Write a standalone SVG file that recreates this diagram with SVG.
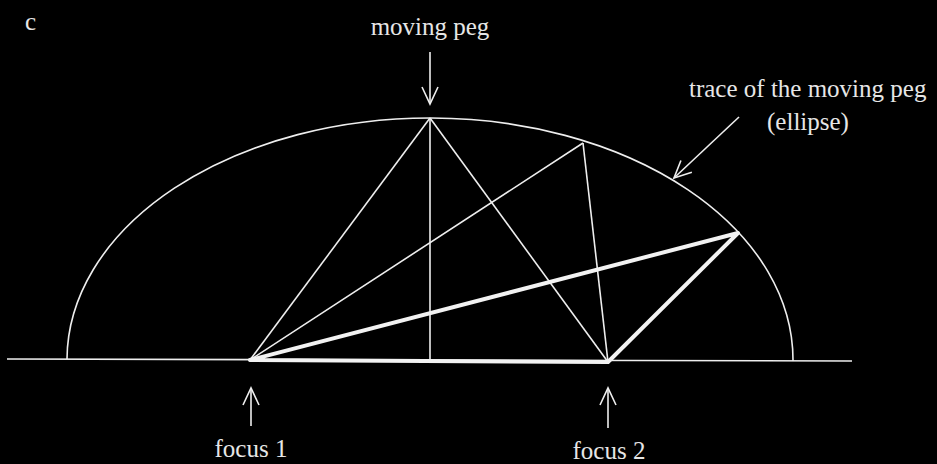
<svg xmlns="http://www.w3.org/2000/svg" width="937" height="464" viewBox="0 0 937 464">
<defs>
<style>
.thin{stroke:#eeeeee;stroke-width:1.6;fill:none}
.thick{stroke:#f2f2f2;stroke-width:4;fill:none;stroke-linecap:round;stroke-linejoin:round}
.lbl{font-family:"Liberation Serif","Times New Roman",serif;font-size:25px;fill:#e6e6e6}
</style>
<marker id="arr" markerUnits="userSpaceOnUse" viewBox="-20 -10 22 20" refX="0" refY="0" markerWidth="22" markerHeight="20" orient="auto">
<path d="M-17,-8 L0,0 L-17,8" fill="none" stroke="#eeeeee" stroke-width="1.6"/>
</marker>
</defs>
<rect width="937" height="464" fill="#000"/>
<g id="ellipse">
<path class="thin" d="M67,359 A363,242 0 0 1 793,361"/>
</g>
<g id="baseline">
<line class="thin" x1="7" y1="359" x2="852" y2="361"/>
</g>
<g id="connectors">
<line class="thin" x1="430" y1="118" x2="430" y2="360"/>
<line class="thin" x1="430" y1="118" x2="250" y2="360"/>
<line class="thin" x1="430" y1="118" x2="608" y2="362"/>
<line class="thin" x1="583" y1="143" x2="250" y2="360"/>
<line class="thin" x1="583" y1="143" x2="608" y2="362"/>
<polyline class="thick" points="250,360 738,233 608,362 250,360"/>
<line class="thin" x1="430" y1="52" x2="430" y2="104" marker-end="url(#arr)"/>
<line class="thin" x1="739" y1="117" x2="674" y2="178" marker-end="url(#arr)"/>
<line class="thin" x1="251" y1="426" x2="251" y2="388" marker-end="url(#arr)"/>
<line class="thin" x1="608" y1="428" x2="608" y2="388" marker-end="url(#arr)"/>
</g>
<g id="labels">
<text class="lbl" x="25" y="30">c</text>
<text class="lbl" x="430" y="35" text-anchor="middle">moving peg</text>
<text class="lbl" x="689" y="97">trace of the moving peg</text>
<text class="lbl" x="808" y="130" text-anchor="middle">(ellipse)</text>
<text class="lbl" x="251" y="457" text-anchor="middle">focus 1</text>
<text class="lbl" x="609" y="459" text-anchor="middle">focus 2</text>
</g>
</svg>
